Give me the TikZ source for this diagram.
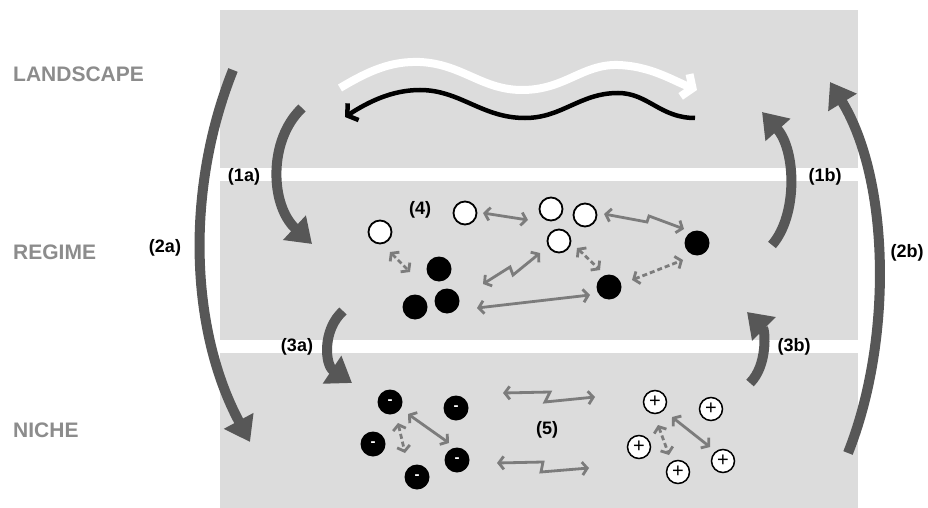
\documentclass[tikz,border=0pt]{standalone}
\usepackage{fontspec}
\setmainfont{Liberation Sans}
\usetikzlibrary{arrows.meta}
\definecolor{panel}{HTML}{DCDCDC}
\definecolor{bigarrow}{HTML}{575757}
\definecolor{smallarrow}{HTML}{7C7C7C}
\definecolor{layertext}{HTML}{8C8C8C}
\tikzset{
  layer/.style={anchor=west, text=layertext, font=\fontsize{21}{25}\selectfont\bfseries, inner sep=0pt},
  numlabel/.style={text=black, font=\fontsize{18}{22}\selectfont\bfseries, inner sep=0pt},
  bigflow/.style={draw=bigarrow, line width=10pt, -{Triangle[length=24pt,width=32pt]}},
  wcirc/.style={circle, draw=black, fill=white, line width=1.8pt, minimum size=23pt, inner sep=0pt},
  bcirc/.style={circle, fill=black, minimum size=25pt, inner sep=0pt},
  mcirc/.style={circle, fill=black, text=white, minimum size=25pt, inner sep=0pt, font=\fontsize{15}{15}\selectfont\bfseries},
  pcirc/.style={circle, draw=black, fill=white, line width=1.5pt, minimum size=23pt, inner sep=0pt, font=\fontsize{20}{20}\selectfont},
  link/.style={draw=smallarrow, line width=2.8pt, {Straight Barb[length=5pt,width=13pt]}-{Straight Barb[length=5pt,width=13pt]}},
  dlink/.style={link, dash pattern=on 5pt off 3pt},
}
\begin{document}
\begin{tikzpicture}[x=1pt,y=-1pt]
\useasboundingbox (0,0) rectangle (928,508);
% panel and bands
\fill[panel] (220,10) rectangle (858,508);
\fill[white] (220,168) rectangle (858,181);
\fill[white] (220,340) rectangle (858,353);
% layer names
\node[layer] (land) at (13,74) {LANDSCAPE};
\node[layer] (reg) at (13,252) {REGIME};
\node[layer] (nich) at (13,430) {NICHE};
% number labels
\node[numlabel] (l1a) at (244,177) {(1a)};
\node[numlabel] (l2a) at (165,248) {(2a)};
\node[numlabel] (l3a) at (297,347) {(3a)};
\node[numlabel] (l1b) at (825,177) {(1b)};
\node[numlabel] (l2b) at (907,253) {(2b)};
\node[numlabel] (l3b) at (794,347) {(3b)};
\node[numlabel] (l4) at (420,210) {(4)};
\node[numlabel] (l5) at (547,430) {(5)};
% big flow arrows
\coordinate (a2s) at (233,70);  \coordinate (a2e) at (250,442);
\coordinate (b2s) at (848,453); \coordinate (b2e) at (830,82);
\coordinate (a1s) at (302,108); \coordinate (a1e) at (312,244);
\coordinate (b1s) at (772,245); \coordinate (b1e) at (762,112);
\coordinate (a3s) at (343,311); \coordinate (a3e) at (352,383);
\coordinate (b3s) at (750,383); \coordinate (b3e) at (747,312);
\draw[bigflow] (a2s) .. controls (185,190) and (190,330) .. (a2e);
\draw[bigflow] (b2s) .. controls (893,340) and (890,180) .. (b2e);
\draw[bigflow] (a1s) .. controls (268,140) and (270,205) .. (a1e);
\draw[bigflow] (b1s) .. controls (798,215) and (796,150) .. (b1e);
\draw[bigflow] (a3s) .. controls (322,330) and (325,365) .. (a3e);
\draw[bigflow] (b3s) .. controls (768,365) and (765,330) .. (b3e);
% wavy arrows in landscape
\coordinate (ws) at (340,88); \coordinate (we) at (697,90);
\coordinate (bs) at (695,118); \coordinate (be) at (345,117);
\draw[white, line width=8pt, -{Straight Barb[length=8pt,width=24pt]}]
  (ws) .. controls (370,70) and (392,61) .. (420,62)
       .. controls (462,64) and (482,90) .. (522,90)
       .. controls (565,90) and (582,64) .. (618,65)
       .. controls (650,66) and (672,80) .. (we);
\draw[black, line width=4.5pt, -{Straight Barb[length=7pt,width=20pt]}]
  (bs) .. controls (660,118) and (648,93) .. (618,93)
       .. controls (580,93) and (562,118) .. (525,118)
       .. controls (482,118) and (460,90) .. (420,90)
       .. controls (392,90) and (368,102) .. (be);
% regime actors
\node[wcirc] (w1) at (380,232) {};
\node[wcirc] (w2) at (465,213) {};
\node[wcirc] (w3) at (551,209) {};
\node[wcirc] (w4) at (585,215) {};
\node[wcirc] (w5) at (559,241) {};
\node[bcirc] (b1) at (439,269) {};
\node[bcirc] (b2) at (415,307) {};
\node[bcirc] (b3) at (447,301) {};
\node[bcirc] (b4) at (609,287) {};
\node[bcirc] (b5) at (697,243) {};
% regime links
\coordinate (r1s) at (390,252); \coordinate (r1e) at (410,272);
\coordinate (r2s) at (483,213); \coordinate (r2e) at (528,220);
\coordinate (r3s) at (604,214); \coordinate (r3e) at (684,229);
\coordinate (r4s) at (483,284); \coordinate (r4e) at (540,253);
\coordinate (r5s) at (577,248); \coordinate (r5e) at (600,270);
\coordinate (r6s) at (632,280); \coordinate (r6e) at (683,260);
\coordinate (r7s) at (477,308); \coordinate (r7e) at (590,295);
\draw[dlink] (r1s) -- (r1e);
\draw[link] (r2s) -- (r2e);
\draw[link] (r3s) -- (647,222) -- (649,216) -- (r3e);
\draw[link] (r4s) -- (510,267) -- (513,275) -- (r4e);
\draw[dlink] (r5s) -- (r5e);
\draw[dlink] (r6s) -- (r6e);
\draw[link] (r7s) -- (r7e);
% niche actors
\node[mcirc] (m1) at (390,402) {-};
\node[mcirc] (m2) at (456,408) {-};
\node[mcirc] (m3) at (373,444) {-};
\node[mcirc] (m4) at (457,460) {-};
\node[mcirc] (m5) at (417,477) {-};
\node[pcirc] (p1) at (655,402) {+};
\node[pcirc] (p2) at (711,409) {+};
\node[pcirc] (p3) at (639,447) {+};
\node[pcirc] (p4) at (723,461) {+};
\node[pcirc] (p5) at (678,472) {+};
% niche links
\coordinate (n1s) at (408,414); \coordinate (n1e) at (449,443);
\coordinate (n2s) at (398,423); \coordinate (n2e) at (405,453);
\coordinate (n3s) at (672,417); \coordinate (n3e) at (710,447);
\coordinate (n4s) at (658,425); \coordinate (n4e) at (669,455);
\coordinate (n5s) at (503,393); \coordinate (n5e) at (595,397);
\coordinate (n6s) at (497,463); \coordinate (n6e) at (589,468);
\draw[link] (n1s) -- (n1e);
\draw[dlink] (n2s) -- (n2e);
\draw[link] (n3s) -- (n3e);
\draw[dlink] (n4s) -- (n4e);
\draw[link] (n5s) -- (550,392) -- (545,402) -- (n5e);
\draw[link] (n6s) -- (543,462) -- (541,472) -- (n6e);
\end{tikzpicture}
\end{document}
